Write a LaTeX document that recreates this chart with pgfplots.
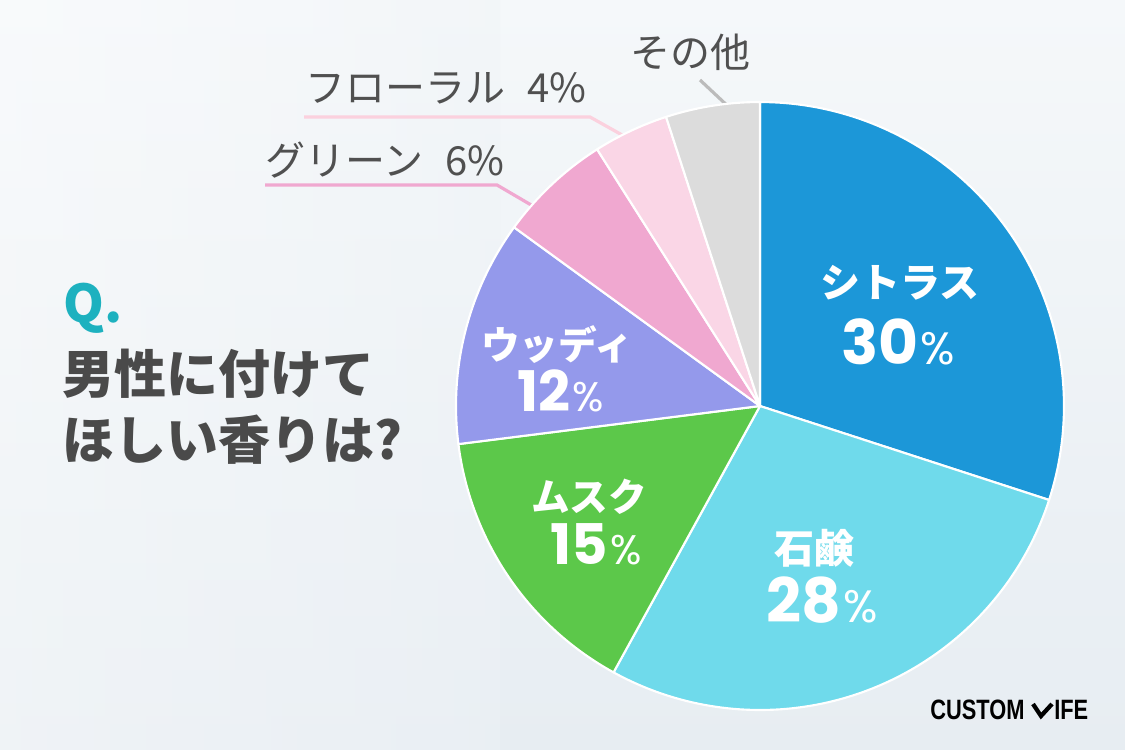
\documentclass[border=0pt]{standalone}
\usepackage{pgfplots}
\usepackage{pgfplotstable}
\pgfplotsset{compat=1.18}
\usepgfplotslibrary{polar}
\usepackage{fontspec}
\setmainfont{Noto Sans CJK JP}
\newfontfamily\numfont{Poppins}
\newfontfamily\logofont[FakeStretch=0.78]{Liberation Sans}

\definecolor{citrus}{HTML}{1C97D8}
\definecolor{soap}{HTML}{6FDAEB}
\definecolor{musk}{HTML}{5CC84A}
\definecolor{woody}{HTML}{9499EB}
\definecolor{green}{HTML}{F0A8D0}
\definecolor{floral}{HTML}{FAD6E6}
\definecolor{other}{HTML}{DCDCDC}
\definecolor{qteal}{HTML}{1DB1BF}
\definecolor{titlegray}{HTML}{4A4A4A}
\definecolor{calloutgray}{HTML}{505050}
\definecolor{bgtop}{HTML}{F5F8FA}
\definecolor{bgmid}{HTML}{EFF3F7}
\definecolor{bgbot}{HTML}{E7EDF2}

% share of each scent, percent (clockwise from 12 o'clock)
\pgfplotstableread{
pct color
30 citrus
28 soap
15 musk
12 woody
6 green
4 floral
5 other
}\piedata

\newcommand{\pct}[3]{{\numfont\fontsize{#2}{#2}\selectfont\bfseries #1\hspace{0.04em}\fontsize{#3}{#3}\selectfont\mdseries\%}}

\begin{document}
\begin{tikzpicture}[x=0.75pt,y=-0.75pt]
\path[use as bounding box] (0,0) rectangle (1125,750);
\shade[top color=bgtop, middle color=bgmid, bottom color=bgbot] (0,0) rectangle (1125,750);
\shade[left color=white, right color=bgmid, opacity=0.35] (0,0) rectangle (500,750);

% leader lines
\draw[line width=2.4pt, color=other!85!black] (700,80) -- (732,110);
\draw[line width=2.4pt, color=floral!80!pink] (304,117) -- (590,117) -- (640,145);
\draw[line width=2.4pt, color=green] (265,185) -- (497,185) -- (550,216);

\coordinate (piecenter) at (760,406);
\begin{polaraxis}[
  at={(piecenter)}, anchor=center,
  scale only axis, width=456pt, height=456pt,
  hide axis, clip=false, no markers,
  ymin=0, ymax=1, xmin=0, xmax=360,
  ]
\pgfplotstablegetrowsof{\piedata}
\pgfmathtruncatemacro\nrows{\pgfplotsretval-1}
\gdef\angstart{90}
\pgfplotsforeachungrouped \i in {0,...,\nrows}{%
  \pgfplotstablegetelem{\i}{pct}\of\piedata \let\p\pgfplotsretval
  \pgfplotstablegetelem{\i}{color}\of\piedata \let\slicecol\pgfplotsretval
  \pgfmathsetmacro\angend{\angstart-3.6*\p}%
  \edef\temp{\noexpand\addplot[fill=\slicecol, draw=white, line width=1.6pt, line join=round, domain=\angend:\angstart, samples=90] {1} -- (axis cs:0,0) -- cycle;}%
  \temp
  \global\let\angstart\angend
}
\end{polaraxis}

% labels inside slices
\begin{scope}[every node/.style={text=white, inner sep=0pt}]
\node[font=\fontsize{30}{30}\selectfont\bfseries] at (900,283) {シトラス};
\node[anchor=base] at (898,364) {\pct{30}{46}{34}};
\node[font=\fontsize{30}{30}\selectfont\bfseries] at (814,548) {石鹸};
\node[anchor=base] at (822,622) {\pct{28}{46}{34}};
\node[font=\fontsize{29}{29}\selectfont\bfseries] at (557,345) {ウッディ};
\node[anchor=base] at (561,411) {\pct{12}{42}{31}};
\node[font=\fontsize{29}{29}\selectfont\bfseries] at (589,497) {ムスク};
\node[anchor=base] at (596,564) {\pct{15}{42}{31}};
\end{scope}

% callouts
\node[text=calloutgray, font=\fontsize{30}{30}\selectfont, inner sep=0pt] at (690,52) {その他};
\node[text=calloutgray, font=\fontsize{30}{30}\selectfont, inner sep=0pt, anchor=west] at (305,88) {フローラル\hspace{0.55em}4\%};
\node[text=calloutgray, font=\fontsize{30}{30}\selectfont, inner sep=0pt, anchor=west] at (265,160) {グリーン\hspace{0.55em}6\%};

% title
\node[text=qteal, font=\fontsize{39}{39}\selectfont\bfseries, inner sep=0pt, anchor=base west] at (63,322) {Q.};
\node[text=titlegray, font=\fontsize{39}{39}\selectfont\bfseries, inner sep=0pt, anchor=base west] at (62,393) {男性に付けて};
\node[text=titlegray, font=\fontsize{39}{39}\selectfont\bfseries, inner sep=0pt, anchor=base west] at (62,459) {ほしい香りは?};

% logo
\node[text=black, font=\logofont\bfseries\fontsize{21}{21}\selectfont, inner sep=0pt, anchor=base west] at (930,719) {CUSTOM};
\draw[line width=3.2pt, line cap=butt] (1033,704) -- (1041,716) -- (1052,704);
\node[text=black, font=\logofont\bfseries\fontsize{21}{21}\selectfont, inner sep=0pt, anchor=base west] at (1054,719) {IFE};
\end{tikzpicture}
\end{document}
